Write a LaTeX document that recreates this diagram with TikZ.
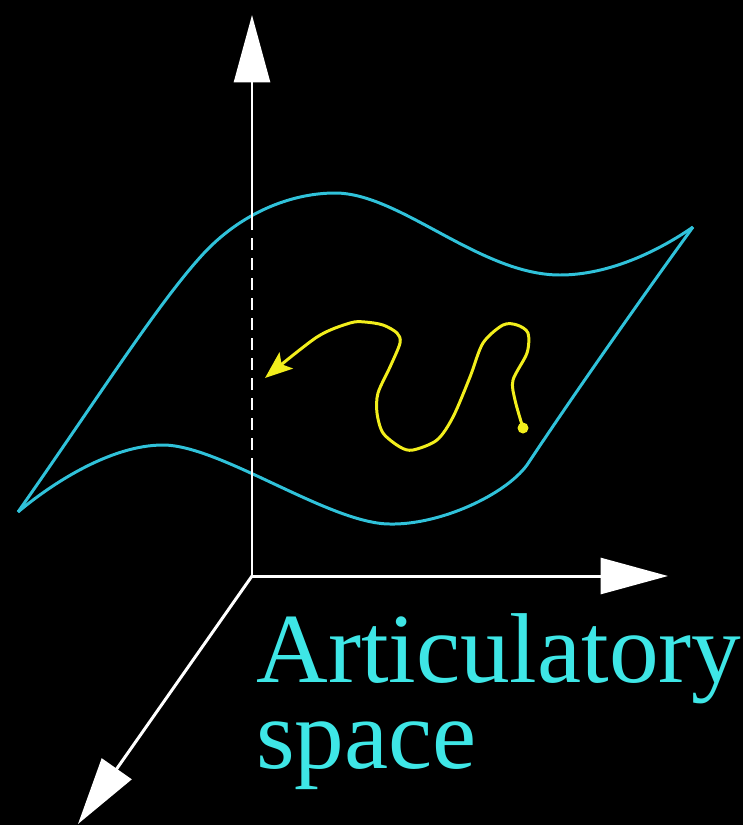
\documentclass[tikz,border=0pt]{standalone}
\usepackage{fontspec}
\setmainfont{Liberation Serif}
\usetikzlibrary{arrows.meta}
\definecolor{fundo}{HTML}{000000}
\definecolor{ciano}{HTML}{30C2DA}
\definecolor{cianotexto}{HTML}{3EE6E6}
\definecolor{amarelo}{HTML}{F2EE1C}

\begin{document}
\begin{tikzpicture}[
    x=0.02cm, y=-0.02cm,
    eixo/.style={draw=white, line width=1.7pt},
    seta/.style={eixo, -{Triangle[length=1.35cm, width=0.72cm]}},
    superficie/.style={draw=ciano, line width=1.7pt, line join=round},
    trajetoria/.style={draw=amarelo, line width=1.7pt, -{Stealth[length=0.55cm, width=0.42cm, inset=0.12cm]}},
    rotulo/.style={text=cianotexto, font=\fontsize{56.5}{48.8}\selectfont, align=left, anchor=base west, inner sep=0pt}
]
    \fill[fundo] (0,0) rectangle (743,825);
    \useasboundingbox (0,0) rectangle (743,825);

    \coordinate (origem) at (252,576);
    \coordinate (topo) at (252,15);
    \coordinate (direita) at (668,576);
    \coordinate (frente) at (78,824);
    \coordinate (corteBaixo) at (252,470);
    \coordinate (corteCima) at (252,222);
    \coordinate (cantoEsq) at (18,512);
    \coordinate (cantoDir) at (693,227);

    % superficie
    \draw[superficie] (cantoEsq) .. controls (100,395) and (160,300) .. (205,252)
        .. controls (245,210) and (295,193) .. (335,193)
        .. controls (400,193) and (480,275) .. (560,275)
        .. controls (610,275) and (660,250) .. (cantoDir);
    \draw[superficie] (cantoDir) .. controls (640,300) and (570,400) .. (527,465)
        .. controls (505,495) and (440,525) .. (390,524)
        .. controls (330,524) and (220,445) .. (163,445)
        .. controls (110,445) and (50,485) .. (cantoEsq);

    % eixos
    \draw[eixo] (origem) -- (corteBaixo);
    \draw[eixo, dash pattern=on 0.24cm off 0.16cm] (corteBaixo) -- (corteCima);
    \draw[seta] (corteCima) -- (topo);
    \draw[seta] (origem) -- (direita);
    \draw[seta] (origem) -- (frente);

    % trajetoria
    \fill[amarelo] (523,428) circle (5.5) coordinate (inicio);
    \draw[trajetoria] plot[smooth] coordinates {(523,428) (515,400) (513,380) (527,353) (528,333)
        (517,325) (503,325) (483,343) (470,377) (453,417) (437,440) (413,450) (400,447)
        (383,433) (377,413) (378,393) (390,367) (400,343) (397,333) (383,325) (365,322)
        (350,323) (317,337) (265,378)};

    \node[rotulo] (rotulo) at (256,768) {Articulatory\\space};
\end{tikzpicture}
\end{document}
